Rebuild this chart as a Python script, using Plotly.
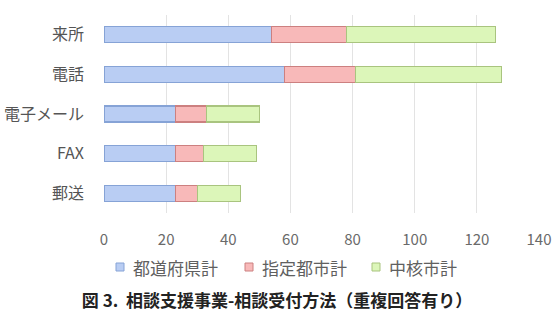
import plotly.graph_objects as go

categories = ["来所", "電話", "電子メール", "FAX", "郵送"]
prefecture = [54, 58, 23, 23, 23]
designated = [24, 23, 10, 9, 7]
core = [48, 47, 17, 17, 14]
series_names = ["都道府県計", "指定都市計", "中核市計"]
x_ticks = [0, 20, 40, 60, 80, 100, 120, 140]
title_text = "<b>図 3.  相談支援事業-相談受付方法（重複回答有り）</b>"

fills = ["#b9cdf3", "#f8b9b9", "#dcf6b9"]
borders = ["#86a3d6", "#cc8080", "#a9c47f"]

W, H = 554, 314
ML, MR, MT, MB = 104, 15, 15, 101
PW, PH = W - ML - MR, H - MT - MB

font_family = "Noto Sans CJK JP"

fig = go.Figure()
for name, vals, fc, bc in zip(series_names, [prefecture, designated, core], fills, borders):
    fig.add_trace(go.Bar(
        y=categories, x=vals, name=name, orientation="h",
        marker=dict(color=fc, line=dict(color=bc, width=1.2)),
        showlegend=False,
    ))

# custom legend (small squares close to text, like the reference)
legend_sq_px = [120, 249, 376]
legend_y_px = 267
sq = 8
shapes, annotations = [], []
for name, fc, bc, cx in zip(series_names, fills, borders, legend_sq_px):
    x0 = (cx - sq / 2 - ML) / PW
    x1 = (cx + sq / 2 - ML) / PW
    y0 = (MT + PH - (legend_y_px + sq / 2)) / PH
    y1 = (MT + PH - (legend_y_px - sq / 2)) / PH
    shapes.append(dict(type="rect", xref="paper", yref="paper", x0=x0, x1=x1, y0=y0, y1=y1,
                       fillcolor=fc, line=dict(color=bc, width=1)))
    annotations.append(dict(text=name, xref="paper", yref="paper",
                            x=(cx + sq / 2 + 7 - ML) / PW, xanchor="left",
                            y=(MT + PH - legend_y_px) / PH, yanchor="middle",
                            showarrow=False, font=dict(size=17, color="#606060", family=font_family)))

fig.update_layout(
    barmode="stack",
    width=W, height=H,
    margin=dict(l=ML, r=MR, t=MT, b=MB, autoexpand=False),
    paper_bgcolor="white", plot_bgcolor="white",
    bargap=0.6,
    font=dict(family=font_family, color="#595959"),
    xaxis=dict(range=[0, 140], tickvals=x_ticks, showgrid=True, gridcolor="#e3e3e3",
               gridwidth=1, zeroline=False, showline=False, automargin=False,
               tickfont=dict(size=15, color="#6a6a6a"), ticklabelstandoff=16),
    yaxis=dict(autorange="reversed", showgrid=False, zeroline=False, showline=False,
               automargin=False,
               tickfont=dict(size=16, color="#555555"), ticklabelstandoff=19),
    shapes=shapes,
    annotations=annotations,
    title=dict(text=title_text, x=0.5, xanchor="center", xref="container",
               y=1 - 301 / 314, yref="container", yanchor="middle",
               font=dict(size=17, color="#222222", family=font_family)),
)
fig.write_html("out.html")
